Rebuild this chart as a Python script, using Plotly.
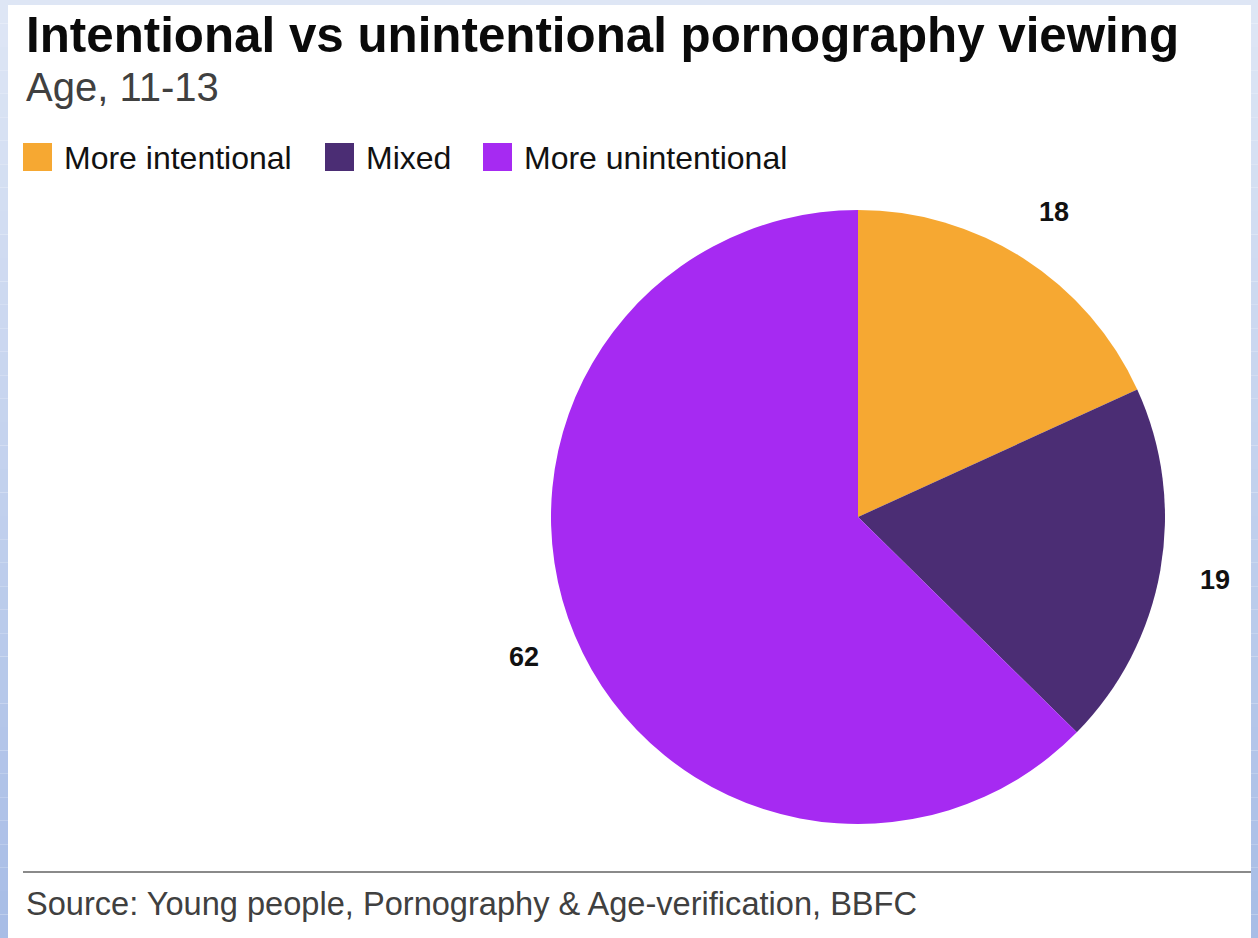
import math
import plotly.graph_objects as go

# Survey shares, age 11-13
categories = ["More intentional", "Mixed", "More unintentional"]
values = [18, 19, 62]
colors = ["#F6A832", "#4B2D74", "#A62AF2"]

title = "Intentional vs unintentional pornography viewing"
subtitle = "Age, 11-13"
source = "Source: Young people, Pornography & Age-verification, BBFC"

W, H = 1258, 938
FONT = "Liberation Sans, Arial, sans-serif"

# pie placement in pixels
cx, cy, r = 858, 517, 307


def px(x):
    return x / W


def py(y):
    return 1 - y / H


fig = go.Figure()
fig.add_trace(go.Pie(
    labels=categories,
    values=values,
    marker=dict(colors=colors, line=dict(width=0)),
    sort=False,
    direction="clockwise",
    rotation=0,
    textinfo="none",
    hoverinfo="label+value",
    showlegend=False,
    domain=dict(x=[px(cx - r), px(cx + r)], y=[py(cy + r), py(cy - r)]),
))

shapes = []
# bluish frame with a vertical gradient
n = 40
top_c = (222, 230, 245)
bot_c = (168, 189, 230)
for i in range(n):
    t = i / (n - 1)
    c = tuple(round(a + (b - a) * t) for a, b in zip(top_c, bot_c))
    shapes.append(dict(type="rect", xref="paper", yref="paper", layer="below",
                       x0=0, x1=1, y0=py(H * (i + 1) / n), y1=py(H * i / n),
                       fillcolor="rgb(%d,%d,%d)" % c, line=dict(width=0)))
# white panel
shapes.append(dict(type="rect", xref="paper", yref="paper", layer="below",
                   x0=px(8), x1=px(1251), y0=0, y1=py(5),
                   fillcolor="white", line=dict(width=0)))
# rule above the source line
shapes.append(dict(type="line", xref="paper", yref="paper",
                   x0=px(23), x1=px(1251), y0=py(872), y1=py(872),
                   line=dict(color="#8a8a8a", width=2)))

annotations = [
    dict(text="<b>%s</b>" % title, x=px(24), y=py(34), xanchor="left", yanchor="middle",
         font=dict(size=49.3, color="#0a0a0a", family=FONT)),
    dict(text=subtitle, x=px(24), y=py(87), xanchor="left", yanchor="middle",
         font=dict(size=40, color="#404040", family=FONT)),
    dict(text=source, x=px(24), y=py(903), xanchor="left", yanchor="middle",
         font=dict(size=32.6, color="#404040", family=FONT)),
]

# hand-built legend: coloured squares followed by labels
legend_x = [23, 325, 483]
for x0, name, col in zip(legend_x, categories, colors):
    shapes.append(dict(type="rect", xref="paper", yref="paper",
                       x0=px(x0), x1=px(x0 + 29), y0=py(171), y1=py(143),
                       fillcolor=col, line=dict(width=0)))
    annotations.append(dict(text=name, x=px(x0 + 39), y=py(158), xanchor="left",
                            yanchor="middle", font=dict(size=32, color="#111111", family=FONT)))

# value labels placed just outside each slice at its mid angle
total = sum(values)
cum = 0
for v in values:
    mid = (cum + v / 2) / total * 2 * math.pi
    cum += v
    d = r * 1.18
    lx = cx + d * math.sin(mid)
    ly = cy - d * math.cos(mid)
    annotations.append(dict(text="<b>%d</b>" % v, x=px(lx), y=py(ly), xanchor="center",
                            yanchor="middle", showarrow=False,
                            font=dict(size=27, color="#111111", family=FONT)))

for a in annotations:
    a.update(xref="paper", yref="paper", showarrow=False)

fig.update_layout(
    width=W, height=H,
    margin=dict(l=0, r=0, t=0, b=0),
    paper_bgcolor="white",
    plot_bgcolor="white",
    shapes=shapes,
    annotations=annotations,
)

fig.write_html("out.html")
